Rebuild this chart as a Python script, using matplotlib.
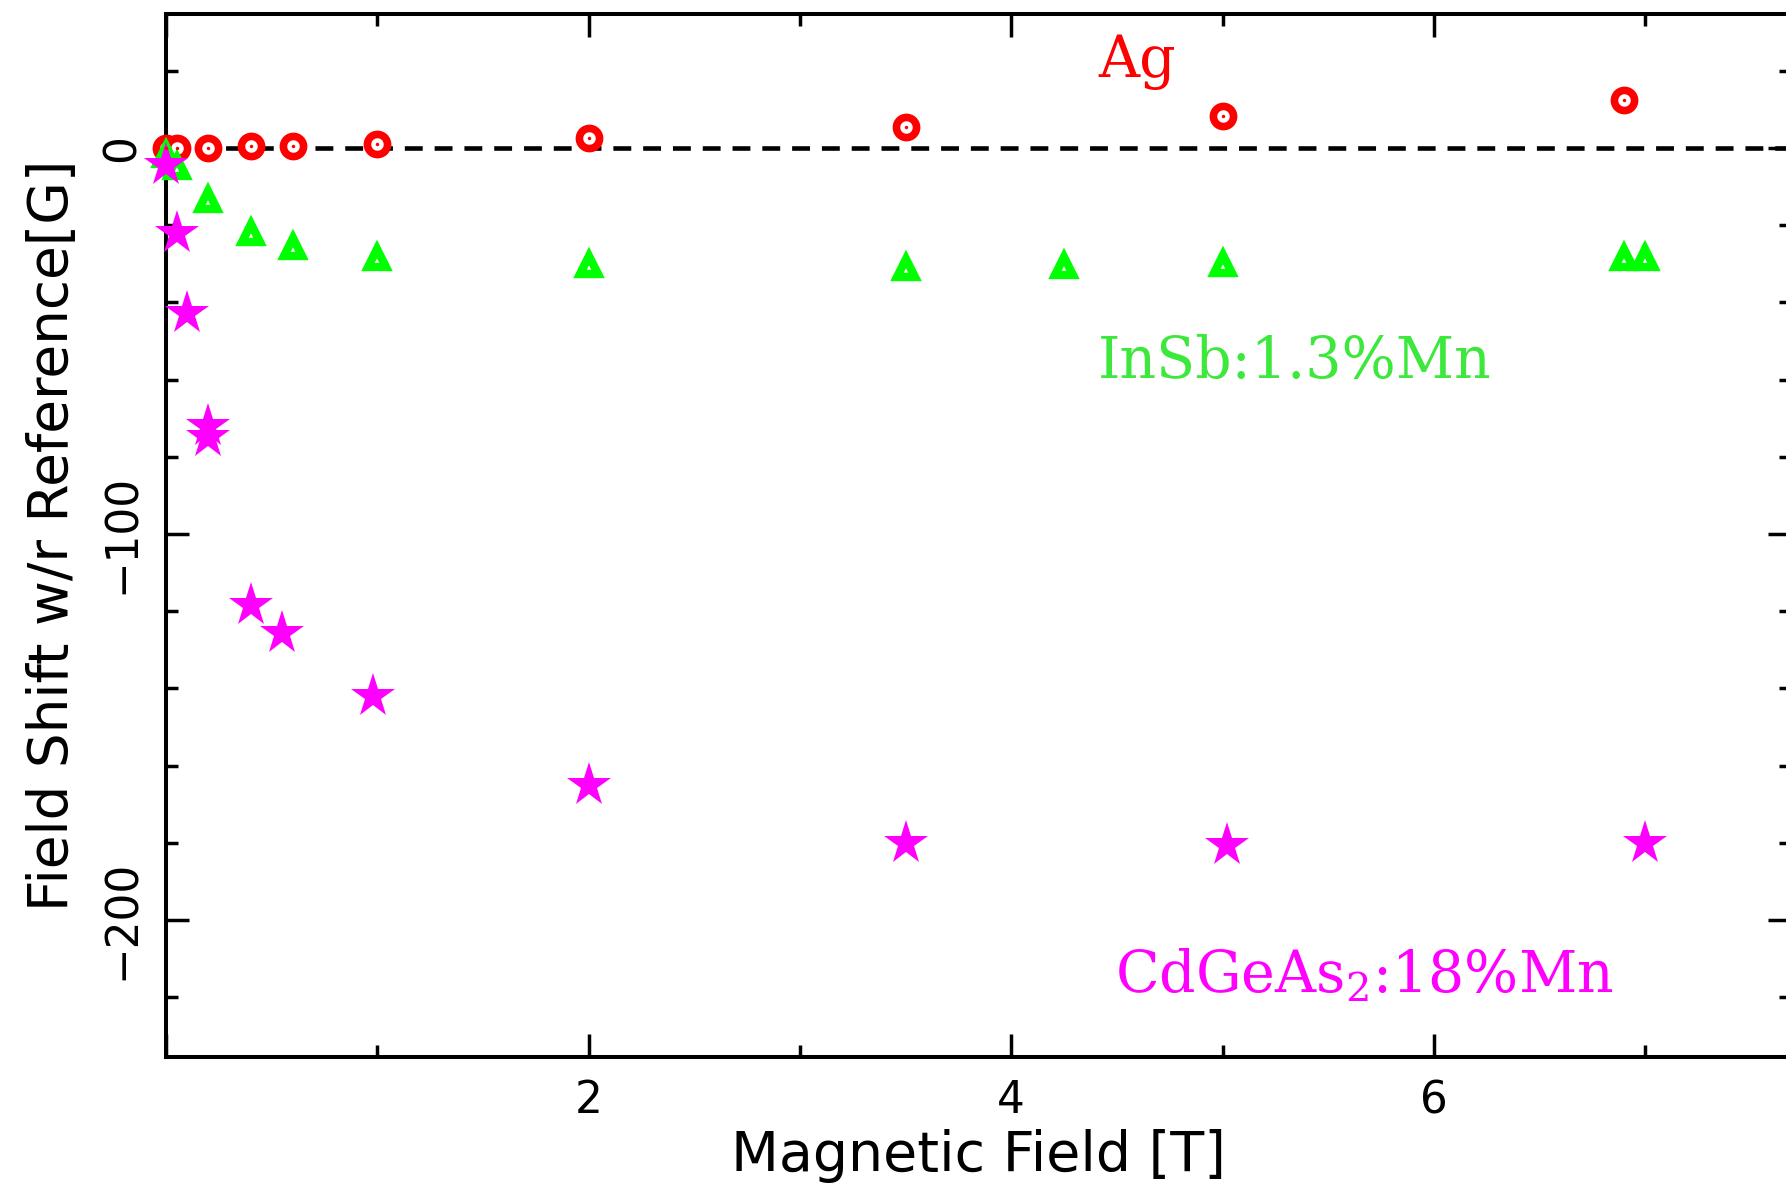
import numpy as np
import matplotlib.pyplot as plt
from matplotlib.ticker import MultipleLocator, FuncFormatter

plt.rcParams['mathtext.fontset'] = 'dejavuserif'

# Ag reference sample
ag_field = [0.0, 0.05, 0.2, 0.4, 0.6, 1.0, 2.0, 3.5, 5.0, 6.9]
ag_shift = [0.0, 0.0, 0.0, 0.5, 0.5, 1.0, 2.7, 5.3, 8.3, 12.3]

# InSb:1.3%Mn
insb_field = [0.0, 0.05, 0.2, 0.4, 0.6, 1.0, 2.0, 3.5, 4.25, 5.0, 6.9, 7.0]
insb_shift = [-1.9, -4.9, -13.5, -22.0, -25.6, -28.6, -30.3, -31.2, -30.7, -30.1, -28.6, -28.6]

# CdGeAs2:18%Mn
cd_field = [0.0, 0.05, 0.1, 0.2, 0.2, 0.4, 0.55, 0.98, 2.0, 3.5, 5.02, 7.0]
cd_shift = [-4.5, -22.0, -42.8, -72.0, -75.0, -118.4, -125.7, -142.0, -165.0, -180.0, -180.6, -180.0]

RED, GREEN, MAGENTA = '#ff0000', '#00ff00', '#ff00ff'
LABEL_GREEN = '#3be83b'

fig = plt.figure(figsize=(17.86, 11.83), dpi=100)
ax = fig.add_axes([0.09295, 0.10651, 0.90985, 0.88166])

ax.axhline(0, color='k', lw=3.3, dashes=(3.9, 2.6), zorder=1)

ax.plot(ag_field, ag_shift, 'o', ms=14.5, mfc='white', mec=RED, mew=5.5, zorder=3, clip_on=False)
ax.plot(ag_field, ag_shift, 'o', ms=2.5, color=RED, mew=0, zorder=4, clip_on=False)
ax.plot(insb_field, insb_shift, '^', ms=13.5, mfc='white', mec=GREEN, mew=6, zorder=3, clip_on=False)
ax.plot(cd_field, cd_shift, '*', ms=33, color=MAGENTA, mew=0, zorder=3, clip_on=False)

ax.set_xlim(0, 7.69)
ax.set_ylim(-235.5, 34.7)

ax.xaxis.set_major_locator(MultipleLocator(2))
ax.xaxis.set_minor_locator(MultipleLocator(1))
ax.yaxis.set_major_locator(MultipleLocator(100))
ax.yaxis.set_minor_locator(MultipleLocator(20))
ax.xaxis.set_major_formatter(FuncFormatter(lambda v, p: '' if v == 0 else '%d' % v))
ax.yaxis.set_major_formatter(FuncFormatter(lambda v, p: ('%d' % v).replace('-', '\u2212')))

ax.tick_params(which='both', direction='in', top=True, right=True, width=2.5, labelsize=31.5)
ax.tick_params(which='major', length=16.5)
ax.tick_params(which='minor', length=8.5)
ax.tick_params(axis='x', pad=16)
ax.tick_params(axis='y', pad=16)
for lab in ax.get_yticklabels():
    lab.set_rotation(90)
    lab.set_va('center')

for sp in ax.spines.values():
    sp.set_linewidth(2.9)

ax.set_xlabel('Magnetic Field [T]', fontsize=40)
ax.set_ylabel('Field Shift w/r Reference[G]', fontsize=39.5)
ax.xaxis.set_label_coords(0.5, -0.069)
ax.yaxis.set_label_coords(-0.053, 0.5)

# sample labels
note = dict(family='DejaVu Serif', fontsize=41, ha='left', va='baseline')
ax.text(4.41, 18.5, 'Ag', color=RED, **note)
ax.text(4.41, -59.5, 'InSb:1.3%Mn', color=LABEL_GREEN, **note)
ax.text(4.49, -218.7, 'CdGeAs$_2$:18%Mn', color=MAGENTA, **note)

fig.savefig('out.png', dpi=100)
